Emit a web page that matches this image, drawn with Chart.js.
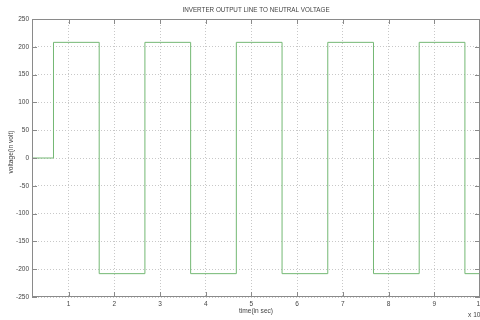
<!DOCTYPE html>
<html>
<head>
<meta charset="utf-8">
<script src="https://cdn.jsdelivr.net/npm/chart.js@4"></script>
<style>
  html, body { margin: 0; padding: 0; background: #fff; }
  #wrap { width: 480px; height: 320px; }
</style>
</head>
<body>
<div id="wrap"><canvas id="chart" width="480" height="320"></canvas></div>
<script>
// step change points (x in ms, shown as x 10^-3) and the level from each point on
const times = [0.2, 0.67, 1.67, 2.67, 3.67, 4.67, 5.67, 6.67, 7.67, 8.67, 9.67, 10];
const volts = [0, 208, -208, 208, -208, 208, -208, 208, -208, 208, -208, -208];
const xTicks = [1, 2, 3, 4, 5, 6, 7, 8, 9, 10];
const yTicks = [-250, -200, -150, -100, -50, 0, 50, 100, 150, 200, 250];

const FONT = '"Liberation Sans", Arial, sans-serif';

// frame, inward ticks and text like the matlab figure
const matlabFrame = {
  id: 'matlabFrame',
  afterDraw(chart) {
    const { ctx, chartArea: a, scales } = chart;
    ctx.save();
    ctx.strokeStyle = '#8a8a8a';
    ctx.lineWidth = 1;
    ctx.strokeRect(a.left + 0.5, a.top + 0.5, a.right - a.left - 1, a.bottom - a.top - 1);

    ctx.beginPath();
    xTicks.forEach(v => {
      const x = Math.round(scales.x.getPixelForValue(v)) + 0.5;
      ctx.moveTo(x, a.bottom); ctx.lineTo(x, a.bottom - 5);
      ctx.moveTo(x, a.top); ctx.lineTo(x, a.top + 5);
    });
    yTicks.forEach(v => {
      const y = Math.round(scales.y.getPixelForValue(v)) + 0.5;
      ctx.moveTo(a.left, y); ctx.lineTo(a.left + 5, y);
      ctx.moveTo(a.right, y); ctx.lineTo(a.right - 5, y);
    });
    ctx.stroke();

    ctx.fillStyle = '#444';
    ctx.font = '6.3px ' + FONT;
    ctx.textAlign = 'center';
    ctx.textBaseline = 'middle';
    ctx.fillText('INVERTER OUTPUT LINE TO NEUTRAL VOLTAGE', (a.left + a.right) / 2, 10);
    ctx.font = '6.6px ' + FONT;
    ctx.fillText('time(in sec)', 256, 311);
    ctx.textAlign = 'left';
    ctx.fillText('x 10', 468, 315);

    ctx.translate(11, 152);
    ctx.rotate(-Math.PI / 2);
    ctx.textAlign = 'center';
    ctx.fillText('voltage(in volt)', 0, 0);
    ctx.restore();
  }
};

const ctx = document.getElementById('chart').getContext('2d');
new Chart(ctx, {
  type: 'line',
  data: {
    datasets: [{
      data: times.map((t, i) => ({ x: t, y: volts[i] })),
      stepped: 'before',
      borderColor: '#74b874',
      borderWidth: 1,
      pointRadius: 0,
      fill: false,
    }]
  },
  options: {
    responsive: false,
    animation: false,
    layout: { padding: { top: 19, right: 0, left: 0, bottom: 0 } },
    plugins: { legend: { display: false }, title: { display: false }, tooltip: { enabled: false } },
    scales: {
      x: {
        type: 'linear',
        min: 0.2,
        max: 10,
        afterBuildTicks: s => { s.ticks = xTicks.map(v => ({ value: v })); },
        afterFit: s => { s.height = 23; s.paddingLeft = 0; s.paddingRight = 0; },
        grid: { color: '#c8c8c8', drawTicks: false },
        border: { display: false, dash: [1, 2] },
        ticks: { color: '#444', font: { family: FONT, size: 6.5 }, padding: 3, maxRotation: 0 }
      },
      y: {
        min: -250,
        max: 250,
        afterBuildTicks: s => { s.ticks = yTicks.map(v => ({ value: v })); },
        afterFit: s => { s.width = 32; s.paddingTop = 0; s.paddingBottom = 0; },
        grid: { color: '#c8c8c8', drawTicks: false },
        border: { display: false, dash: [1, 2] },
        ticks: { color: '#444', font: { family: FONT, size: 6.5 }, padding: 3 }
      }
    }
  },
  plugins: [matlabFrame]
});
</script>
</body>
</html>
